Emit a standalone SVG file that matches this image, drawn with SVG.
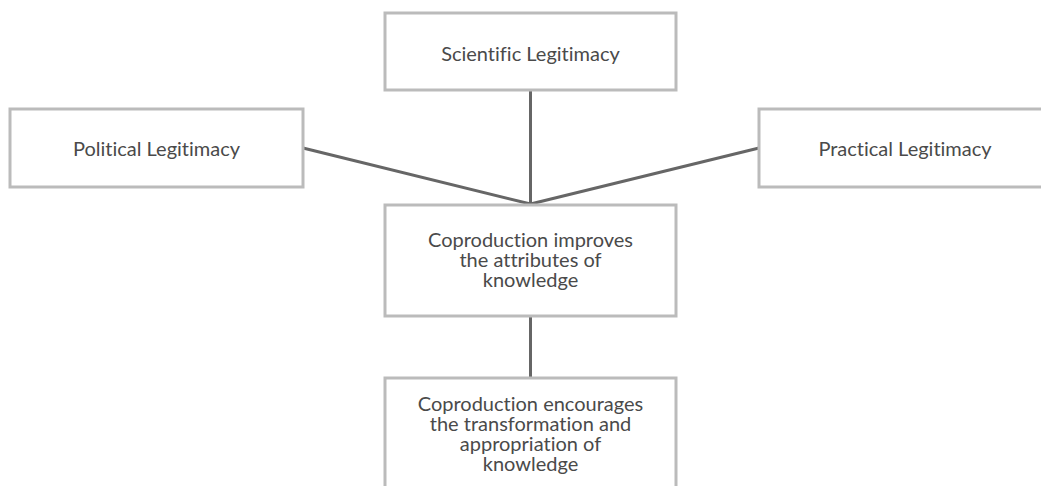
<svg xmlns="http://www.w3.org/2000/svg" width="1041" height="486" viewBox="0 0 1041 486">
<style>
.box{fill:#fff;stroke:#bbbbbb;stroke-width:3}
.lbl{font-family:Lato,"Open Sans","Liberation Sans",sans-serif;font-size:20px;font-weight:400;fill:#4a4a4a;text-anchor:middle;font-variant-ligatures:none}
.con{stroke:#666;stroke-width:3;fill:none}
</style>
<rect width="1041" height="486" fill="#fff"/>
<g id="connectors">
<line class="con" x1="530.5" y1="90" x2="530.5" y2="204"/>
<line class="con" x1="303" y1="148" x2="530.5" y2="204"/>
<line class="con" x1="759" y1="148" x2="530.5" y2="204"/>
<line class="con" x1="530.5" y1="316" x2="530.5" y2="378"/>
</g>
<g id="scientific">
<rect class="box" x="385" y="13" width="291" height="77"/>
<text class="lbl" x="530.5" y="61">Scientific Legitimacy</text>
</g>
<g id="political">
<rect class="box" x="10" y="109" width="293" height="78"/>
<text class="lbl" x="156.5" y="156">Political Legitimacy</text>
</g>
<g id="practical">
<rect class="box" x="759" y="109" width="300" height="78"/>
<text class="lbl" x="905" y="156">Practical Legitimacy</text>
</g>
<g id="improves">
<rect class="box" x="385" y="205" width="291" height="111"/>
<text class="lbl" x="530.5" y="247">Coproduction improves</text>
<text class="lbl" x="530.5" y="267">the attributes of</text>
<text class="lbl" x="530.5" y="287">knowledge</text>
</g>
<g id="encourages">
<rect class="box" x="385" y="378" width="291" height="130"/>
<text class="lbl" x="530.5" y="411">Coproduction encourages</text>
<text class="lbl" x="530.5" y="431">the transformation and</text>
<text class="lbl" x="530.5" y="451">appropriation of</text>
<text class="lbl" x="530.5" y="471">knowledge</text>
</g>
</svg>
